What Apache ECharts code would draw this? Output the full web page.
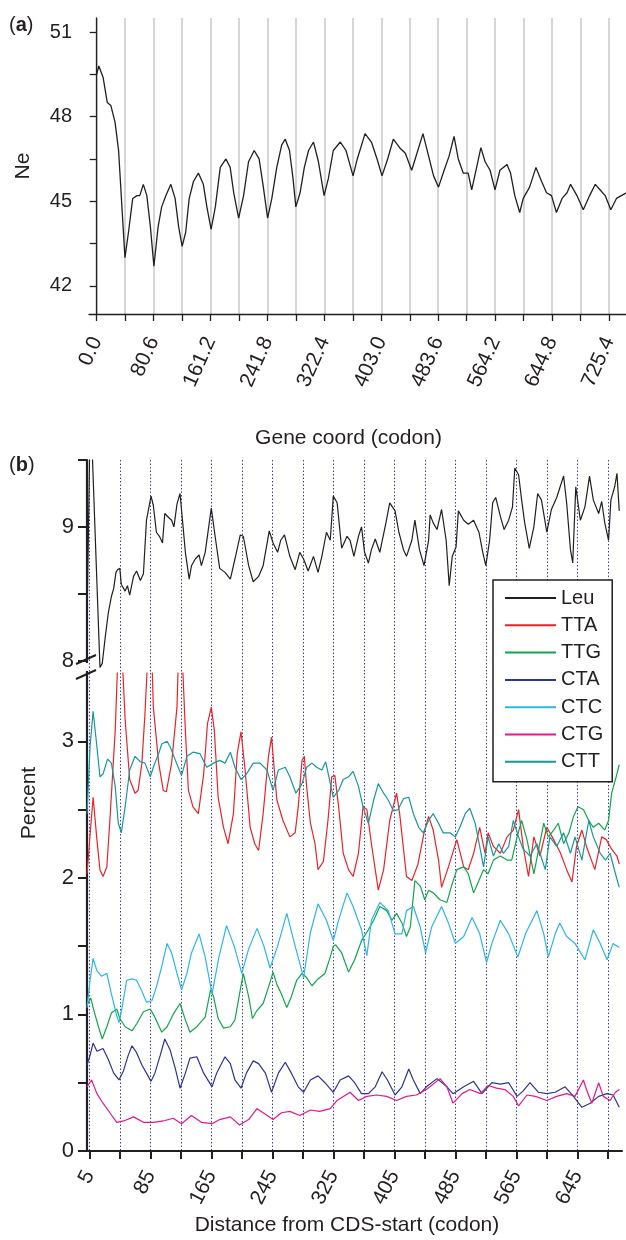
<!DOCTYPE html>
<html>
<head>
<meta charset="utf-8">
<script src="https://cdn.jsdelivr.net/npm/echarts@6/dist/echarts.min.js"></script>
<style>
  html, body { margin: 0; padding: 0; background: #fff; }
  #main { width: 626px; height: 1240px; }
</style>
</head>
<body>
<div id="main"></div>
<script>
// panel (a): Ne along the gene, [codon, Ne]
const neCurve = [[0,49.5],[3,49.8],[9,49.4],[15,48.5],[20,48.4],[26,47.8],[31,46.8],[35,45.1],[40,43.0],[45,43.9],[51,45.1],[57,45.2],[61,45.2],[66,45.6],[71,45.2],[76,44.1],[81,42.7],[87,44.1],[92,44.8],[98,45.2],[105,45.6],[111,45.1],[116,44.1],[121,43.4],[126,43.9],[131,45.1],[137,45.7],[144,46.0],[151,45.6],[156,44.8],[162,44.0],[168,44.8],[175,46.2],[183,46.5],[189,46.2],[194,45.3],[201,44.4],[208,45.2],[215,46.4],[223,46.8],[230,46.5],[236,45.5],[242,44.4],[248,45.1],[255,46.2],[262,47.0],[267,47.2],[273,46.8],[278,45.8],[282,44.8],[288,45.3],[294,46.2],[300,46.8],[307,47.1],[314,46.4],[322,45.2],[328,45.8],[335,46.8],[345,47.1],[353,46.8],[363,45.9],[369,46.5],[380,47.4],[389,47.1],[397,46.5],[404,45.9],[412,46.5],[420,47.2],[429,46.9],[437,46.7],[446,46.1],[451,46.5],[462,47.4],[470,46.6],[477,45.9],[484,45.5],[492,46.1],[499,46.6],[506,47.3],[512,46.5],[519,46.0],[526,46.0],[531,45.4],[538,46.2],[544,46.9],[550,46.4],[557,46.1],[564,45.4],[571,46.1],[581,46.3],[586,46.0],[592,45.2],[599,44.6],[604,45.1],[613,45.5],[622,46.2],[630,45.7],[637,45.3],[644,45.2],[651,44.6],[659,45.1],[666,45.3],[671,45.6],[680,45.2],[689,44.7],[698,45.2],[706,45.6],[713,45.4],[720,45.2],[728,44.7],[736,45.1],[743,45.2],[750,45.3]];

// panel (b): percent by distance from CDS start, [codon, percent]
const leuCurve = [[2,8.31],[4,9.0],[6,9.8],[8,9.7],[13,8.9],[19,7.95],[22,7.98],[26,8.18],[30,8.36],[34,8.48],[37,8.54],[40,8.66],[42,8.68],[45,8.69],[47,8.57],[52,8.52],[55,8.56],[58,8.49],[63,8.63],[67,8.67],[72,8.6],[76,8.65],[80,9.05],[86,9.23],[89,9.16],[93,8.96],[97,8.93],[101,8.88],[104,9.1],[109,9.07],[113,9.05],[116,9.0],[120,9.17],[124,9.25],[128,9.0],[131,8.81],[136,8.61],[139,8.71],[144,8.76],[149,8.79],[152,8.71],[157,8.81],[165,9.14],[170,8.93],[176,8.69],[183,8.66],[190,8.61],[196,8.76],[203,8.94],[207,8.93],[214,8.71],[220,8.59],[227,8.63],[233,8.71],[241,8.97],[246,8.88],[252,8.81],[256,8.9],[261,8.94],[268,8.78],[275,8.68],[281,8.81],[286,8.76],[292,8.67],[299,8.78],[305,8.66],[310,8.78],[316,8.96],[321,8.9],[325,9.23],[330,9.18],[336,8.84],[343,8.93],[347,8.9],[352,8.78],[358,8.93],[362,9.0],[366,8.81],[371,8.73],[375,8.83],[380,8.91],[386,8.81],[394,9.03],[399,9.18],[406,9.12],[411,8.96],[417,8.83],[421,8.78],[428,8.9],[432,9.05],[438,8.83],[444,8.71],[450,8.9],[452,9.09],[456,9.03],[461,8.98],[467,9.13],[473,8.9],[477,8.56],[481,8.78],[486,8.85],[489,9.12],[496,9.05],[502,9.02],[509,9.05],[516,8.96],[521,8.81],[525,8.71],[530,8.9],[534,9.18],[538,9.22],[544,9.08],[549,8.98],[555,9.05],[560,9.15],[563,9.44],[568,9.39],[572,9.2],[576,9.03],[582,8.84],[588,9.0],[593,9.25],[598,9.2],[605,8.96],[611,9.13],[618,9.22],[627,9.38],[631,9.18],[636,8.83],[639,8.73],[643,9.3],[649,9.05],[655,9.15],[661,9.38],[666,9.2],[673,9.1],[677,9.19],[681,9.03],[686,8.9],[689,9.2],[694,9.3],[697,9.4],[700,9.12]];

const ttaCurve = [[2,2.03],[10,2.59],[15,2.28],[19,2.06],[23,2.01],[28,2.08],[32,2.42],[39,3.08],[45,4.0],[52,3.16],[58,2.72],[65,2.62],[69,2.64],[74,2.84],[78,3.2],[85,4.0],[89,3.25],[96,2.84],[102,2.64],[106,2.63],[113,2.84],[120,3.25],[124,4.0],[131,3.08],[135,2.64],[141,2.52],[148,2.47],[155,2.76],[160,3.13],[165,3.25],[169,3.08],[174,2.59],[181,2.37],[187,2.25],[194,2.47],[199,2.91],[204,3.07],[209,2.81],[216,2.37],[222,2.25],[227,2.2],[233,2.47],[240,2.89],[244,3.03],[251,2.57],[259,2.42],[268,2.3],[275,2.33],[279,2.52],[284,2.86],[287,2.89],[290,2.67],[295,2.4],[301,2.25],[305,2.06],[312,2.12],[318,2.42],[323,2.74],[327,2.75],[332,2.52],[338,2.18],[345,2.06],[351,2.01],[358,2.18],[364,2.52],[369,2.5],[375,2.25],[384,1.91],[391,2.06],[399,2.42],[408,2.62],[412,2.47],[421,2.01],[428,1.98],[436,2.1],[444,2.33],[450,2.45],[456,2.35],[463,2.13],[467,1.93],[476,2.08],[487,2.28],[496,2.08],[502,2.06],[509,2.18],[517,2.37],[524,2.18],[528,2.33],[535,2.23],[544,2.18],[553,2.3],[561,2.35],[568,2.5],[574,2.23],[581,2.01],[588,2.3],[596,2.16],[605,2.37],[614,2.28],[623,2.18],[631,2.06],[638,1.97],[644,2.23],[651,2.35],[657,2.23],[668,2.06],[677,2.3],[683,2.28],[690,2.21],[697,2.16],[700,2.1]];

const ttgCurve = [[2,1.07],[7,1.12],[10,1.05],[17,0.91],[22,0.82],[28,0.91],[34,1.01],[41,1.04],[45,0.97],[52,0.91],[61,0.88],[67,0.93],[76,1.02],[85,1.04],[91,0.98],[100,0.87],[107,0.91],[115,1.0],[124,1.08],[131,0.96],[137,0.87],[146,0.91],[157,0.98],[164,1.18],[168,1.13],[174,0.97],[181,0.9],[190,0.91],[196,0.96],[203,1.18],[207,1.3],[214,1.13],[219,0.97],[225,1.03],[233,1.08],[240,1.2],[246,1.31],[251,1.22],[257,1.15],[264,1.05],[270,1.13],[277,1.25],[284,1.3],[290,1.27],[297,1.21],[305,1.26],[314,1.3],[321,1.42],[325,1.5],[328,1.51],[336,1.45],[345,1.31],[353,1.4],[362,1.54],[371,1.62],[378,1.69],[386,1.79],[395,1.76],[402,1.69],[408,1.74],[415,1.67],[421,1.57],[426,1.64],[432,1.98],[439,1.94],[445,1.84],[450,1.91],[456,1.89],[465,1.84],[474,1.82],[480,1.94],[487,2.06],[496,2.08],[502,2.03],[509,1.89],[516,1.98],[522,2.06],[528,2.03],[535,2.13],[544,2.16],[553,2.13],[559,2.13],[566,2.3],[572,2.42],[579,2.28],[588,2.03],[594,2.2],[601,2.4],[607,2.3],[614,2.35],[620,2.4],[627,2.25],[634,2.33],[640,2.45],[646,2.52],[653,2.5],[660,2.42],[666,2.37],[673,2.4],[681,2.35],[686,2.42],[690,2.62],[695,2.72],[700,2.83]];

const ctaCurve = [[2,0.63],[6,0.7],[10,0.79],[15,0.73],[23,0.75],[30,0.67],[37,0.57],[44,0.52],[50,0.59],[56,0.7],[61,0.77],[67,0.72],[74,0.63],[80,0.57],[86,0.51],[91,0.57],[98,0.7],[104,0.82],[111,0.74],[118,0.6],[124,0.46],[131,0.57],[137,0.68],[146,0.69],[155,0.57],[166,0.47],[172,0.57],[183,0.69],[190,0.64],[196,0.52],[204,0.46],[211,0.57],[220,0.66],[227,0.64],[236,0.57],[244,0.43],[253,0.57],[262,0.65],[270,0.57],[279,0.47],[286,0.43],[295,0.52],[305,0.55],[314,0.5],[325,0.43],[334,0.52],[345,0.55],[353,0.5],[362,0.42],[371,0.42],[380,0.47],[389,0.58],[396,0.52],[406,0.41],[415,0.47],[424,0.6],[430,0.52],[439,0.42],[447,0.47],[461,0.53],[474,0.47],[482,0.42],[496,0.47],[509,0.51],[520,0.42],[533,0.5],[544,0.49],[555,0.5],[566,0.4],[574,0.44],[583,0.5],[594,0.43],[605,0.42],[616,0.43],[629,0.47],[640,0.4],[651,0.32],[662,0.35],[673,0.4],[684,0.42],[692,0.41],[700,0.32]];

const ctcCurve = [[2,1.05],[6,1.25],[10,1.41],[15,1.32],[21,1.28],[28,1.3],[34,1.15],[41,0.99],[44,0.94],[48,1.05],[54,1.25],[61,1.26],[67,1.25],[74,1.17],[80,1.09],[87,1.1],[93,1.2],[100,1.35],[107,1.52],[113,1.45],[120,1.3],[126,1.18],[133,1.3],[139,1.45],[149,1.59],[157,1.42],[166,1.15],[175,1.42],[185,1.65],[195,1.5],[205,1.3],[214,1.48],[225,1.63],[234,1.5],[242,1.34],[252,1.5],[264,1.74],[275,1.5],[286,1.27],[295,1.6],[305,1.81],[316,1.69],[325,1.54],[332,1.69],[343,1.89],[351,1.79],[362,1.62],[369,1.43],[375,1.69],[386,1.82],[397,1.76],[406,1.59],[415,1.59],[421,1.76],[430,1.79],[439,1.64],[446,1.45],[454,1.64],[467,1.79],[476,1.67],[485,1.52],[496,1.57],[507,1.71],[517,1.59],[526,1.38],[533,1.52],[544,1.69],[555,1.59],[567,1.42],[577,1.59],[592,1.76],[601,1.59],[607,1.42],[616,1.59],[622,1.67],[631,1.57],[642,1.52],[655,1.4],[666,1.62],[675,1.52],[684,1.4],[692,1.52],[700,1.49]];

const ctgCurve = [[2,0.47],[8,0.52],[15,0.42],[23,0.35],[32,0.28],[41,0.21],[50,0.22],[63,0.25],[76,0.21],[89,0.21],[102,0.22],[115,0.24],[126,0.2],[139,0.26],[152,0.21],[166,0.2],[176,0.23],[190,0.25],[202,0.19],[214,0.23],[225,0.31],[233,0.28],[246,0.23],[257,0.28],[268,0.29],[281,0.26],[295,0.3],[307,0.29],[321,0.31],[330,0.37],[347,0.43],[358,0.37],[369,0.4],[382,0.41],[395,0.4],[408,0.37],[421,0.4],[434,0.41],[447,0.45],[465,0.53],[474,0.47],[482,0.35],[494,0.42],[504,0.45],[518,0.42],[528,0.48],[539,0.46],[550,0.45],[561,0.4],[568,0.33],[579,0.41],[590,0.4],[605,0.37],[618,0.4],[631,0.42],[642,0.4],[653,0.52],[657,0.45],[664,0.35],[673,0.5],[679,0.4],[688,0.37],[695,0.43],[700,0.45]];

const cttCurve = [[2,2.47],[6,2.96],[10,3.22],[15,2.96],[19,2.74],[23,2.76],[29,2.87],[34,2.84],[39,2.67],[43,2.4],[47,2.33],[52,2.52],[58,2.79],[65,2.89],[72,2.85],[78,2.84],[85,2.74],[89,2.81],[96,2.91],[100,2.98],[107,3.0],[111,2.96],[118,2.86],[126,2.75],[133,2.89],[141,2.92],[150,2.91],[159,2.81],[168,2.84],[176,2.86],[183,2.84],[190,2.92],[196,2.81],[204,2.72],[211,2.76],[220,2.84],[229,2.84],[238,2.79],[246,2.64],[253,2.79],[262,2.81],[268,2.74],[276,2.62],[284,2.69],[290,2.81],[297,2.84],[303,2.81],[310,2.79],[315,2.85],[320,2.72],[325,2.59],[332,2.64],[338,2.72],[345,2.74],[351,2.78],[358,2.67],[364,2.52],[371,2.4],[378,2.57],[384,2.69],[391,2.62],[397,2.57],[404,2.49],[410,2.5],[417,2.58],[424,2.59],[430,2.47],[437,2.37],[443,2.33],[450,2.42],[456,2.47],[463,2.4],[469,2.33],[478,2.33],[485,2.3],[491,2.37],[498,2.47],[504,2.51],[511,2.4],[517,2.23],[522,2.08],[528,2.3],[535,2.16],[542,2.25],[548,2.18],[555,2.23],[561,2.42],[568,2.3],[574,2.21],[583,2.16],[592,2.25],[603,2.06],[609,2.3],[618,2.23],[627,2.33],[636,2.18],[642,2.3],[651,2.13],[660,2.42],[666,2.3],[675,2.18],[682,2.13],[688,2.18],[695,2.03],[700,1.93]];

// axis ticks and labels
const neXTicks = [0,40.3,80.6,120.9,161.2,201.5,241.8,282.1,322.4,362.7,403.0,443.3,483.6,523.9,564.2,604.5,644.8,685.1,725.4];
const neXLabels = [0,80.6,161.2,241.8,322.4,403.0,483.6,564.2,644.8,725.4];
const neYTicks = [42,43.5,45,46.5,48,49.5,51];
const neYLabels = [42,45,48,51];
const codonTicks = [5,45,85,125,165,205,245,285,325,365,405,445,485,525,565,605,645,685];
const codonLabels = [5,85,165,245,325,405,485,565,645];
const leuYTicks = [8,8.5,9,9.5];
const leuYLabels = [8,9];
const pctYTicks = [0,0.5,1,1.5,2,2.5,3];
const pctYLabels = [0,1,2,3];

const codonNames = ['Leu','TTA','TTG','CTA','CTC','CTG','CTT'];
const codonColors = ['#231f20','#ec2227','#13a54b','#2b3590','#2ab6ea','#e2198c','#16989d'];
const codonData = [leuCurve, ttaCurve, ttgCurve, ctaCurve, ctcCurve, ctgCurve, cttCurve];

const font = '"Liberation Sans", Arial, sans-serif';
const ink = '#231f20';

var myChart = echarts.init(document.getElementById('main'));

var series = [{
  name: 'Ne', type: 'line', xAxisIndex: 0, yAxisIndex: 0,
  data: neCurve, showSymbol: false, symbol: 'none',
  lineStyle: { color: ink, width: 1.3 }, itemStyle: { color: ink }
}];
codonNames.forEach(function (name, i) {
  series.push({
    name: name, type: 'line',
    xAxisIndex: i === 0 ? 1 : 2, yAxisIndex: i === 0 ? 1 : 2,
    data: codonData[i], showSymbol: false, symbol: 'none',
    lineStyle: { color: codonColors[i], width: 1.2 },
    itemStyle: { color: codonColors[i] }
  });
});

var dotted = { show: true, lineStyle: { color: '#3b3fb0', width: 1, type: [1.5, 2] } };

var option = {
  animation: false,
  textStyle: { fontFamily: font, color: ink },
  grid: [
    { left: 89, top: 18, width: 537, height: 296, outerBoundsMode: 'none' },
    { left: 87, top: 460, width: 535, height: 213, outerBoundsMode: 'none' },
    { left: 87, top: 673, width: 535, height: 478, outerBoundsMode: 'none' }
  ],
  xAxis: [
    {
      gridIndex: 0, type: 'value', min: -10.9, max: 749.5,
      axisLine: { show: true, lineStyle: { color: ink, width: 1.3 } },
      axisTick: { show: true, customValues: neXTicks, length: 7, lineStyle: { color: ink, width: 1.3 } },
      axisLabel: { customValues: neXLabels, rotate: 66, margin: 24, fontSize: 21, color: ink,
        formatter: function (v) { return v.toFixed(1); } },
      splitLine: { show: true, lineStyle: { color: '#c9c9c9', width: 1.5 } },
      name: 'Gene coord (codon)', nameLocation: 'middle', nameGap: 114, nameMoveOverlap: false,
      nameTextStyle: { fontSize: 21, color: ink, padding: [0, 18, 0, 0] }
    },
    {
      gridIndex: 1, type: 'value', min: 2, max: 703.6,
      axisLine: { show: false }, axisLabel: { show: false },
      axisTick: { show: false, customValues: codonTicks },
      splitLine: dotted
    },
    {
      gridIndex: 2, type: 'value', min: 2, max: 703.6,
      axisLine: { show: true, lineStyle: { color: ink, width: 2.2 } },
      axisTick: { show: true, customValues: codonTicks, length: 8, lineStyle: { color: ink, width: 2 } },
      axisLabel: { customValues: codonLabels, rotate: 63, margin: 21, fontSize: 21, color: ink },
      splitLine: dotted,
      name: 'Distance from CDS-start (codon)', nameLocation: 'middle', nameGap: 64, nameMoveOverlap: false,
      nameTextStyle: { fontSize: 21, color: ink, padding: [0, 15, 0, 0] }
    }
  ],
  yAxis: [
    {
      gridIndex: 0, type: 'value', min: 41, max: 51.5,
      axisLine: { show: true, lineStyle: { color: ink, width: 1.3 } },
      axisTick: { show: true, customValues: neYTicks, length: 7, lineStyle: { color: ink, width: 1.3 } },
      axisLabel: { customValues: neYLabels, margin: 17, fontSize: 20, color: ink },
      splitLine: { show: false },
      name: 'Ne', nameLocation: 'middle', nameGap: 55, nameMoveOverlap: false,
      nameTextStyle: { fontSize: 21, color: ink }
    },
    {
      gridIndex: 1, type: 'value', min: 7.908, max: 9.5,
      axisLine: { show: true, lineStyle: { color: ink, width: 2.2 } },
      axisTick: { show: true, customValues: leuYTicks, length: 9, lineStyle: { color: ink, width: 2 } },
      axisLabel: { customValues: leuYLabels, margin: 13, fontSize: 22, color: ink },
      splitLine: { show: false }
    },
    {
      gridIndex: 2, type: 'value', min: 0, max: 3.5,
      axisLine: { show: true, lineStyle: { color: ink, width: 2.2 } },
      axisTick: { show: true, customValues: pctYTicks, length: 9, lineStyle: { color: ink, width: 2 } },
      axisLabel: { customValues: pctYLabels, margin: 13, fontSize: 22, color: ink },
      splitLine: { show: false }
    }
  ],
  legend: {
    data: codonNames, orient: 'vertical', left: 493, top: 580,
    icon: 'rect', itemWidth: 51, itemHeight: 2, itemGap: 7.3,
    padding: [8, 9, 10, 12], selectedMode: false,
    backgroundColor: '#fff', borderColor: ink, borderWidth: 1.5,
    textStyle: { fontSize: 20, lineHeight: 20, color: ink, fontFamily: font }
  },
  graphic: [
    { type: 'text', left: 9, top: 15, z: 100,
      style: { text: '{p|(}{b|a}{p|)}', rich: { p: { fontSize: 20, fontFamily: font, fill: ink }, b: { fontSize: 20, fontWeight: 'bold', fontFamily: font, fill: ink } } } },
    { type: 'text', left: 9, top: 455, z: 100,
      style: { text: '{p|(}{b|b}{p|)}', rich: { p: { fontSize: 20, fontFamily: font, fill: ink }, b: { fontSize: 20, fontWeight: 'bold', fontFamily: font, fill: ink } } } },
    { type: 'text', x: 29, y: 803, rotation: Math.PI / 2, z: 100,
      style: { text: 'Percent', font: '21px ' + font, fill: ink, align: 'center', verticalAlign: 'middle' } },
    { type: 'rect', shape: { x: 84, y: 663, width: 4.5, height: 8 }, style: { fill: '#fff' }, z: 100 },
    { type: 'line', shape: { x1: 76, y1: 664, x2: 96, y2: 655 }, style: { stroke: ink, lineWidth: 2 }, z: 101 },
    { type: 'line', shape: { x1: 76, y1: 679, x2: 96, y2: 670 }, style: { stroke: ink, lineWidth: 2 }, z: 101 }
  ],
  series: series
};

myChart.setOption(option);
</script>
</body>
</html>
